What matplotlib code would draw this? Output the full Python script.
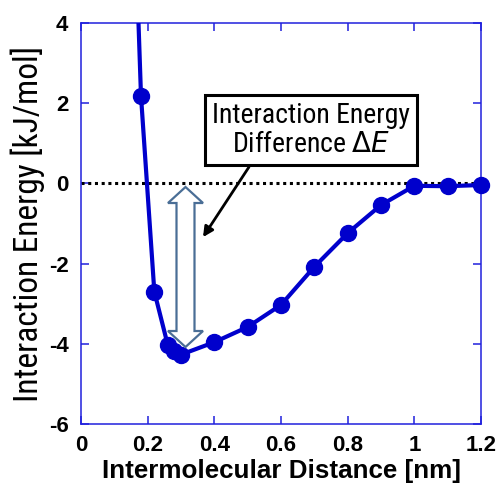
import matplotlib
matplotlib.use("Agg")
import matplotlib.pyplot as plt
from matplotlib.patches import Polygon

# data
dist_nm = [0.18, 0.22, 0.26, 0.28, 0.30, 0.40, 0.50, 0.60, 0.70, 0.80, 0.90, 1.00, 1.10, 1.20]
energy = [2.18, -2.70, -4.02, -4.18, -4.27, -3.96, -3.58, -3.03, -2.08, -1.24, -0.54, -0.06, -0.07, -0.04]
lead_x = [0.1725]
lead_y = [4.0]
x_ticks = [0, 0.2, 0.4, 0.6, 0.8, 1.0, 1.2]
x_tick_labels = ["0", "0.2", "0.4", "0.6", "0.8", "1", "1.2"]
y_ticks = [-6, -4, -2, 0, 2, 4]
y_tick_labels = ["-6", "-4", "-2", "0", "2", "4"]
arrow_x = 0.3135
arrow_top = -0.09
arrow_bottom = -4.08

blue = "#0000CC"
spine_blue = "#2020DD"
narrow = ["Roboto Condensed", "PT Sans Narrow", "Liberation Sans"]

fig = plt.figure(figsize=(5, 4.84), dpi=100)
ax = fig.add_axes([81/500, 1-424/484, 400/500, 401/484])
ax.set_xlim(0, 1.2)
ax.set_ylim(-6, 4)

ax.plot([0, 1.2], [0, 0], color="black", lw=2.2, linestyle=(0, (1, 1.2)), zorder=2)
ax.plot(lead_x + dist_nm, lead_y + energy, color=blue, lw=3, zorder=3, clip_on=True)
ax.plot(dist_nm, energy, linestyle="none", marker="o", ms=11.5, color=blue, zorder=4, clip_on=False)

for s in ax.spines.values():
    s.set_color(spine_blue)
    s.set_linewidth(1.1)
ax.tick_params(direction="in", length=6, width=1.1, color=spine_blue, top=True, right=True)
ax.set_xticks(x_ticks)
ax.set_xticklabels(x_tick_labels, fontsize=16, fontweight="bold", family="Liberation Sans")
ax.set_yticks(y_ticks)
ax.set_yticklabels(y_tick_labels, fontsize=16, fontweight="bold", family="Liberation Sans")
ax.tick_params(axis="x", pad=8)
ax.tick_params(axis="y", pad=9)
ax.set_xlabel("Intermolecular Distance [nm]", fontsize=18.7, fontweight="bold", family="Liberation Sans", labelpad=2)
ax.set_ylabel("Interaction Energy [kJ/mol]", fontsize=24, family=narrow, labelpad=3)

# hollow double arrow built in pixel units
def px2data(px, py):
    return ax.transData.inverted().transform((px, py))
cx, ty = ax.transData.transform((arrow_x, arrow_top))
_, by = ax.transData.transform((arrow_x, arrow_bottom))
sw, hw, hl = 9.0, 17.5, 16.0
pts_px = [(cx, ty), (cx + hw, ty - hl), (cx + sw, ty - hl), (cx + sw, by + hl), (cx + hw, by + hl),
          (cx, by), (cx - hw, by + hl), (cx - sw, by + hl), (cx - sw, ty - hl), (cx - hw, ty - hl)]
pts = [px2data(*p) for p in pts_px]
ax.add_patch(Polygon(pts, closed=True, facecolor="white", edgecolor="#4A6E96", lw=1.6, zorder=5))

ax.text(0.69, 1.33, "Interaction Energy\nDifference $\\Delta\\mathit{E}$", ha="center", va="center",
        fontsize=20, family=narrow, linespacing=1.1, zorder=6,
        bbox=dict(boxstyle="square,pad=0.25", facecolor="white", edgecolor="black", lw=2.2))
ax.annotate("", xy=(0.366, -1.34), xytext=(0.504, 0.41),
            arrowprops=dict(arrowstyle="-|>,head_length=0.6,head_width=0.3", color="black", lw=2,
                            shrinkA=0, shrinkB=0), zorder=6)

fig.savefig("out.png", dpi=100)
